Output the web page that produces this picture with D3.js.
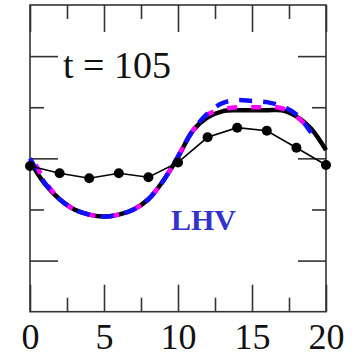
<!DOCTYPE html>
<html>
<head>
<meta charset="utf-8">
<script src="https://cdn.jsdelivr.net/npm/d3@7"></script>
<style>
  html, body { margin: 0; padding: 0; background: #fff; }
  svg { display: block; }
  svg text { font-family: "Liberation Serif", "Times New Roman", Tinos, "DejaVu Serif", serif !important; }
</style>
</head>
<body>
<script>
// Grid positions along x
const xGrid = [0, 1, 2, 3, 4, 5, 6, 7, 8, 9, 10, 11, 12, 13, 14, 15, 16, 17, 18, 19, 20];
const xGridShort = [0, 1, 2, 3, 4, 5, 6, 7, 8, 9, 10, 11, 12, 13, 14, 15, 16, 17, 18, 19];

// Reference solution (thick solid black)
const exactVals = [-0.03, -0.25, -0.40, -0.50, -0.55, -0.57, -0.55, -0.50, -0.40, -0.22, 0.01,
                   0.27, 0.40, 0.46, 0.47, 0.47, 0.47, 0.47, 0.41, 0.29, 0.08];
// Dashed magenta solution
const magentaVals = [0.05, -0.22, -0.40, -0.50, -0.55, -0.57, -0.55, -0.50, -0.40, -0.22, 0.02,
                     0.27, 0.43, 0.48, 0.50, 0.50, 0.50, 0.49, 0.41, 0.27];
// Dashed blue solution
const blueVals = [0.00, -0.24, -0.40, -0.50, -0.55, -0.57, -0.55, -0.50, -0.40, -0.22, 0.02,
                  0.27, 0.44, 0.54, 0.57, 0.56, 0.55, 0.51, 0.43, 0.25];
// Coarse scheme (thin line with dots)
const dotX = [0, 2, 4, 6, 8, 10, 12, 14, 16, 18, 20];
const dotVals = [-0.075, -0.146, -0.195, -0.146, -0.185, -0.04, 0.206, 0.30, 0.27, 0.104, -0.065];

// Axis ticks
const xMajor = [0, 5, 10, 15, 20];
const xMinor = [2.5, 7.5, 12.5, 17.5];
const yMajor = [-1, 0, 1];
const yMinor = [-0.5, 0.5];

const W = 354, H = 359;
const L = 30, R = 326, T = 5, B = 311.7;

const svg = d3.select("body").append("svg").attr("width", W).attr("height", H);

const x = d3.scaleLinear().domain([0, 20]).range([L, R]);
const y = d3.scaleLinear().domain([-1.5, 1.5]).range([B, T]);

const axisColor = "#333";

function styleAxis(g) {
  g.select(".domain").remove();
  g.selectAll(".tick line").attr("stroke", axisColor).attr("stroke-width", 1.6);
}

// Bottom axis: majors with labels, minors without
svg.append("g").attr("transform", `translate(0,${B})`)
  .call(d3.axisBottom(x).tickValues(xMajor).tickSize(-27).tickPadding(12).tickFormat(d3.format("d")))
  .call(styleAxis)
  .call(g => g.selectAll("text").attr("font-size", 36).attr("fill", "#111"));
svg.append("g").attr("transform", `translate(0,${B})`)
  .call(d3.axisBottom(x).tickValues(xMinor).tickSize(-14).tickFormat(""))
  .call(styleAxis);

// Top axis
svg.append("g").attr("transform", `translate(0,${T})`)
  .call(d3.axisTop(x).tickValues(xMajor).tickSize(-27).tickFormat(""))
  .call(styleAxis);
svg.append("g").attr("transform", `translate(0,${T})`)
  .call(d3.axisTop(x).tickValues(xMinor).tickSize(-14).tickFormat(""))
  .call(styleAxis);

// Left axis
svg.append("g").attr("transform", `translate(${L},0)`)
  .call(d3.axisLeft(y).tickValues(yMajor).tickSize(-28).tickFormat(""))
  .call(styleAxis);
svg.append("g").attr("transform", `translate(${L},0)`)
  .call(d3.axisLeft(y).tickValues(yMinor).tickSize(-14).tickFormat(""))
  .call(styleAxis);

// Right axis
svg.append("g").attr("transform", `translate(${R},0)`)
  .call(d3.axisRight(y).tickValues(yMajor).tickSize(-28).tickFormat(""))
  .call(styleAxis);
svg.append("g").attr("transform", `translate(${R},0)`)
  .call(d3.axisRight(y).tickValues(yMinor).tickSize(-14).tickFormat(""))
  .call(styleAxis);

// Plot frame
svg.append("rect")
  .attr("x", L).attr("y", T).attr("width", R - L).attr("height", B - T)
  .attr("fill", "none").attr("stroke", axisColor).attr("stroke-width", 1.6);

const smooth = d3.line().x(d => x(d[0])).y(d => y(d[1])).curve(d3.curveCatmullRom.alpha(0.5));
const straight = d3.line().x(d => x(d[0])).y(d => y(d[1]));

// Thick black reference curve
svg.append("path")
  .attr("d", smooth(d3.zip(xGrid, exactVals)))
  .attr("fill", "none").attr("stroke", "#000").attr("stroke-width", 4.5);

// Magenta dashed
svg.append("path")
  .attr("d", smooth(d3.zip(xGridShort, magentaVals)))
  .attr("fill", "none").attr("stroke", "#ff00ff").attr("stroke-width", 4.5)
  .attr("stroke-dasharray", "10,14").attr("stroke-dashoffset", -13);

// Blue dashed
svg.append("path")
  .attr("d", smooth(d3.zip(xGridShort, blueVals)))
  .attr("fill", "none").attr("stroke", "#1010ff").attr("stroke-width", 4.5)
  .attr("stroke-dasharray", "13,11");

// Thin line with dots
svg.append("path")
  .attr("d", straight(d3.zip(dotX, dotVals)))
  .attr("fill", "none").attr("stroke", "#000").attr("stroke-width", 1.6);
svg.append("g").selectAll("circle")
  .data(d3.zip(dotX, dotVals))
  .join("circle")
  .attr("cx", d => x(d[0])).attr("cy", d => y(d[1])).attr("r", 5)
  .attr("fill", "#000");

// Annotations
svg.append("text")
  .attr("x", 63).attr("y", 78)
  .attr("font-size", 38).attr("fill", "#111")
  .text("t = 105");

svg.append("text")
  .attr("x", 171).attr("y", 230)
  .attr("font-size", 30).attr("font-weight", "bold").attr("fill", "#3333cc")
  .text("LHV");
</script>
</body>
</html>
